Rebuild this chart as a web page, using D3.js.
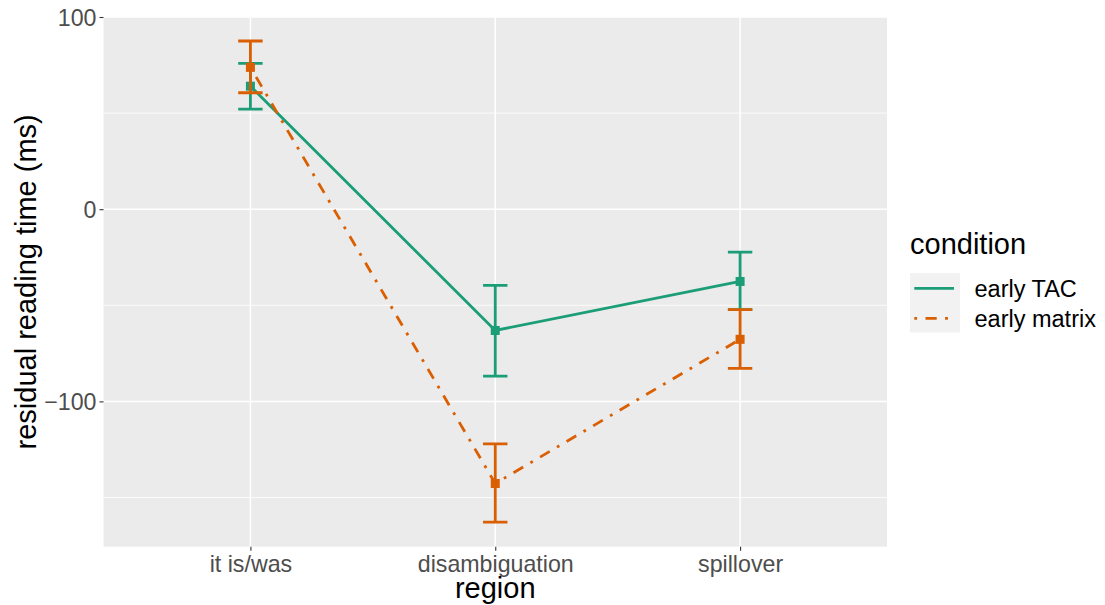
<!DOCTYPE html>
<html>
<head>
    <style>
        body { margin: 0; background: #fff; }
        text { font-family: "Liberation Sans", Arial, sans-serif; }
    </style>
    <script src="https://d3js.org/d3.v7.min.js"></script>
</head>
<body>
<script>
    // data
    let regions = ["it is/was", "disambiguation", "spillover"];
    let conditions = ["early TAC", "early matrix"];
    let tacMean = [64.0, -63.1, -37.6];
    let tacLow = [52.1, -86.8, -52.3];
    let tacHigh = [75.9, -39.6, -22.3];
    let matrixMean = [73.8, -142.7, -67.7];
    let matrixLow = [60.6, -162.8, -82.8];
    let matrixHigh = [87.5, -122.1, -52.3];
    let yTicks = [-100, 0, 100];
    let yMinor = [-150, -50, 50];

    let colors = ["#1B9E77", "#D95F02"];
    let width = 1105, height = 605;
    let panel = { left: 103.5, right: 887, top: 17, bottom: 546.7 };

    let svg = d3.select("body").append("svg")
        .attr("width", width)
        .attr("height", height);

    let x = d3.scalePoint()
        .domain(regions)
        .range([panel.left, panel.right])
        .padding(0.6);

    let y = d3.scaleLinear()
        .domain([-175.6, 100])
        .range([panel.bottom, panel.top]);

    svg.append("rect")
        .attr("x", panel.left).attr("y", panel.top)
        .attr("width", panel.right - panel.left)
        .attr("height", panel.bottom - panel.top)
        .attr("fill", "#EBEBEB");

    // grid
    svg.selectAll(".minor").data(yMinor).enter().append("line")
        .attr("x1", panel.left).attr("x2", panel.right)
        .attr("y1", d => y(d)).attr("y2", d => y(d))
        .attr("stroke", "#fff").attr("stroke-width", 0.8);
    svg.selectAll(".majory").data(yTicks).enter().append("line")
        .attr("x1", panel.left).attr("x2", panel.right)
        .attr("y1", d => y(d)).attr("y2", d => y(d))
        .attr("stroke", "#fff").attr("stroke-width", 1.5);
    svg.selectAll(".majorx").data(regions).enter().append("line")
        .attr("x1", d => x(d)).attr("x2", d => x(d))
        .attr("y1", panel.top).attr("y2", panel.bottom)
        .attr("stroke", "#fff").attr("stroke-width", 1.5);

    // axes
    let yAxis = svg.append("g")
        .attr("transform", `translate(${panel.left},0)`)
        .call(d3.axisLeft(y).tickValues(yTicks).tickSize(4).tickPadding(3)
            .tickFormat(d => d < 0 ? "\u2212" + Math.abs(d) : d));
    let xAxis = svg.append("g")
        .attr("transform", `translate(0,${panel.bottom})`)
        .call(d3.axisBottom(x).tickSize(4).tickPadding(4));
    [xAxis, yAxis].forEach(g => {
        g.select(".domain").remove();
        g.selectAll(".tick line").attr("stroke", "#333").attr("stroke-width", 1.1);
        g.selectAll(".tick text").attr("fill", "#4D4D4D")
            .style("font-size", "23.2px").style("font-family", "Liberation Sans, Arial, sans-serif");
    });
    yAxis.selectAll(".tick text").attr("dy", "0.35em");
    xAxis.selectAll(".tick text").attr("y", 25.5).attr("dy", 0);

    svg.append("text")
        .attr("x", (panel.left + panel.right) / 2)
        .attr("y", 598)
        .attr("text-anchor", "middle")
        .style("font-size", "29px")
        .text("region");
    svg.append("text")
        .attr("transform", `translate(36,${(panel.top + panel.bottom) / 2}) rotate(-90)`)
        .attr("text-anchor", "middle")
        .style("font-size", "29px")
        .text("residual reading time (ms)");

    let series = [
        { name: conditions[0], mean: tacMean, low: tacLow, high: tacHigh, dash: null },
        { name: conditions[1], mean: matrixMean, low: matrixLow, high: matrixHigh, dash: "2.8,8.4,11.2,8.4" }
    ];

    let line = d3.line().x(d => x(d.r)).y(d => y(d.v));
    let capW = 12.2;

    series.forEach((s, k) => {
        let pts = regions.map((r, i) => ({ r: r, v: s.mean[i], lo: s.low[i], hi: s.high[i] }));
        let g = svg.append("g");
        g.append("path")
            .datum(pts)
            .attr("d", line)
            .attr("fill", "none")
            .attr("stroke", colors[k])
            .attr("stroke-width", 2.8)
            .attr("stroke-dasharray", s.dash);
        g.selectAll(".eb").data(pts).enter().append("path")
            .attr("d", d => `M${x(d.r) - capW},${y(d.hi)}H${x(d.r) + capW}M${x(d.r)},${y(d.hi)}V${y(d.lo)}M${x(d.r) - capW},${y(d.lo)}H${x(d.r) + capW}`)
            .attr("fill", "none")
            .attr("stroke", colors[k])
            .attr("stroke-width", 2.8);
        g.selectAll(".pt").data(pts).enter().append("rect")
            .attr("x", d => x(d.r) - 4.5)
            .attr("y", d => y(d.v) - 4.5)
            .attr("width", 9).attr("height", 9)
            .attr("fill", colors[k]);
    });

    // legend
    let leg = svg.append("g").attr("transform", "translate(910,0)");
    leg.append("text").attr("x", 0).attr("y", 254)
        .style("font-size", "29px").text("condition");
    leg.append("rect").attr("x", 0).attr("y", 273)
        .attr("width", 50).attr("height", 59.5).attr("fill", "#F2F2F2");
    series.forEach((s, k) => {
        let cy = 288.3 + k * 30;
        leg.append("line")
            .attr("x1", 4.3).attr("x2", 44)
            .attr("y1", cy).attr("y2", cy)
            .attr("stroke", colors[k]).attr("stroke-width", 2.8)
            .attr("stroke-dasharray", s.dash);
        leg.append("text").attr("x", 64.5).attr("y", cy + 8.4)
            .style("font-size", "23.5px").text(s.name);
    });
</script>
</body>
</html>
